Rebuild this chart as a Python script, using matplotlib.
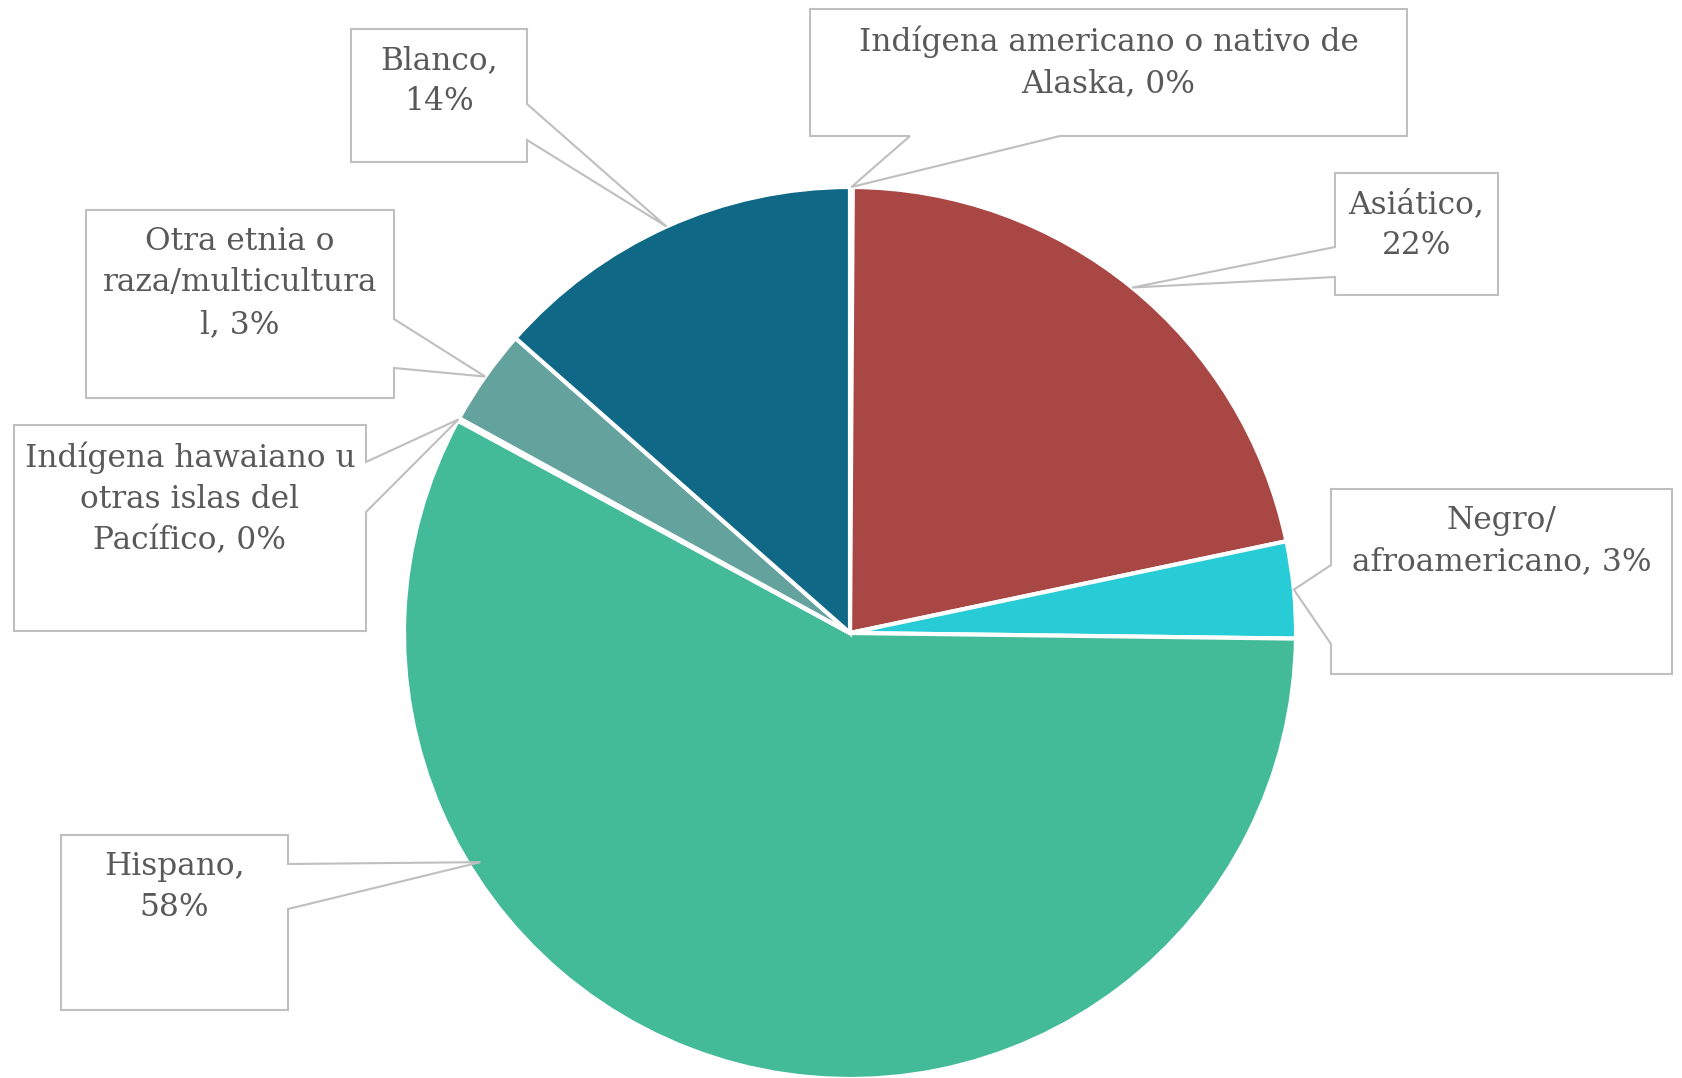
import numpy as np
import matplotlib.pyplot as plt
from matplotlib.patches import Polygon

W, H = 1683, 1078

# data (share in %, clockwise from 12 o'clock)
labels = ["Indígena americano o nativo de\nAlaska, 0%",
          "Asiático,\n22%",
          "Negro/\nafroamericano, 3%",
          "Hispano,\n58%",
          "Indígena hawaiano u\notras islas del\nPacífico, 0%",
          "Otra etnia o\nraza/multicultura\nl, 3%",
          "Blanco,\n14%"]
values = [0.1, 21.6, 3.5, 57.7, 0.1, 3.5, 13.5]
colors = ["#3E7CA6", "#A94745", "#27CCD6", "#43BA98", "#4FAF95", "#64A29E", "#106887"]

# callout boxes in pixel coords: x0, y0, x1, y1, side of the pointer, two anchor values
boxes = [(810, 9, 1407, 136, "bottom", 910, 1060),
         (1335, 173, 1498, 295, "left", 247, 277),
         (1331, 489, 1672, 674, "left", 565, 644),
         (61, 835, 288, 1010, "right", 864, 909),
         (14, 425, 366, 631, "right", 462, 512),
         (86, 210, 394, 398, "right", 319, 368),
         (351, 29, 527, 162, "right", 104, 140)]
tip_frac = [0.5, 0.5, 0.5, 0.71, 0.5, 0.5, 0.5]
tip_rad = [1.0, 1.0, 1.0, 0.975, 1.0, 1.0, 1.0]

cx, cy, R = 850, 633, 446

fig = plt.figure(figsize=(W / 100, H / 100), dpi=100)
ax = fig.add_axes([0, 0, 1, 1])

def fy(y):
    return H - y

wedges, _ = ax.pie(values, colors=colors, startangle=90, counterclock=False,
                   center=(cx, fy(cy)), radius=R, frame=True,
                   wedgeprops=dict(edgecolor="white", linewidth=3))
ax.set_xlim(0, W)
ax.set_ylim(0, H)
ax.set_aspect("equal")
ax.axis("off")

for w, lab, b, fr, rr in zip(wedges, labels, boxes, tip_frac, tip_rad):
    t1, t2 = w.theta1, w.theta2
    # clockwise pie: the slice starts at theta2
    th = np.deg2rad(t2 - (t2 - t1) * fr)
    tx = cx + R * rr * np.cos(th)
    ty = fy(cy) + R * rr * np.sin(th)
    x0, y0, x1, y1, side, a1, a2 = b
    if side == "right":
        pts = [(x0, y0), (x1, y0), (x1, a1), None, (x1, a2), (x1, y1), (x0, y1)]
    elif side == "left":
        pts = [(x0, y0), (x1, y0), (x1, y1), (x0, y1), (x0, a2), None, (x0, a1)]
    else:
        pts = [(x0, y0), (x1, y0), (x1, y1), (a2, y1), None, (a1, y1), (x0, y1)]
    verts = [(tx, ty) if p is None else (p[0], fy(p[1])) for p in pts]
    ax.add_patch(Polygon(verts, closed=True, facecolor="white", edgecolor="#BFBFBF",
                         linewidth=1.5, zorder=5))
    ax.text((x0 + x1) / 2, fy(y0 + 16), lab, ha="center", va="top", fontsize=22.5,
            family="DejaVu Serif", color="#595959", linespacing=1.43, zorder=6)

fig.savefig("out.png", dpi=100, facecolor="white")
